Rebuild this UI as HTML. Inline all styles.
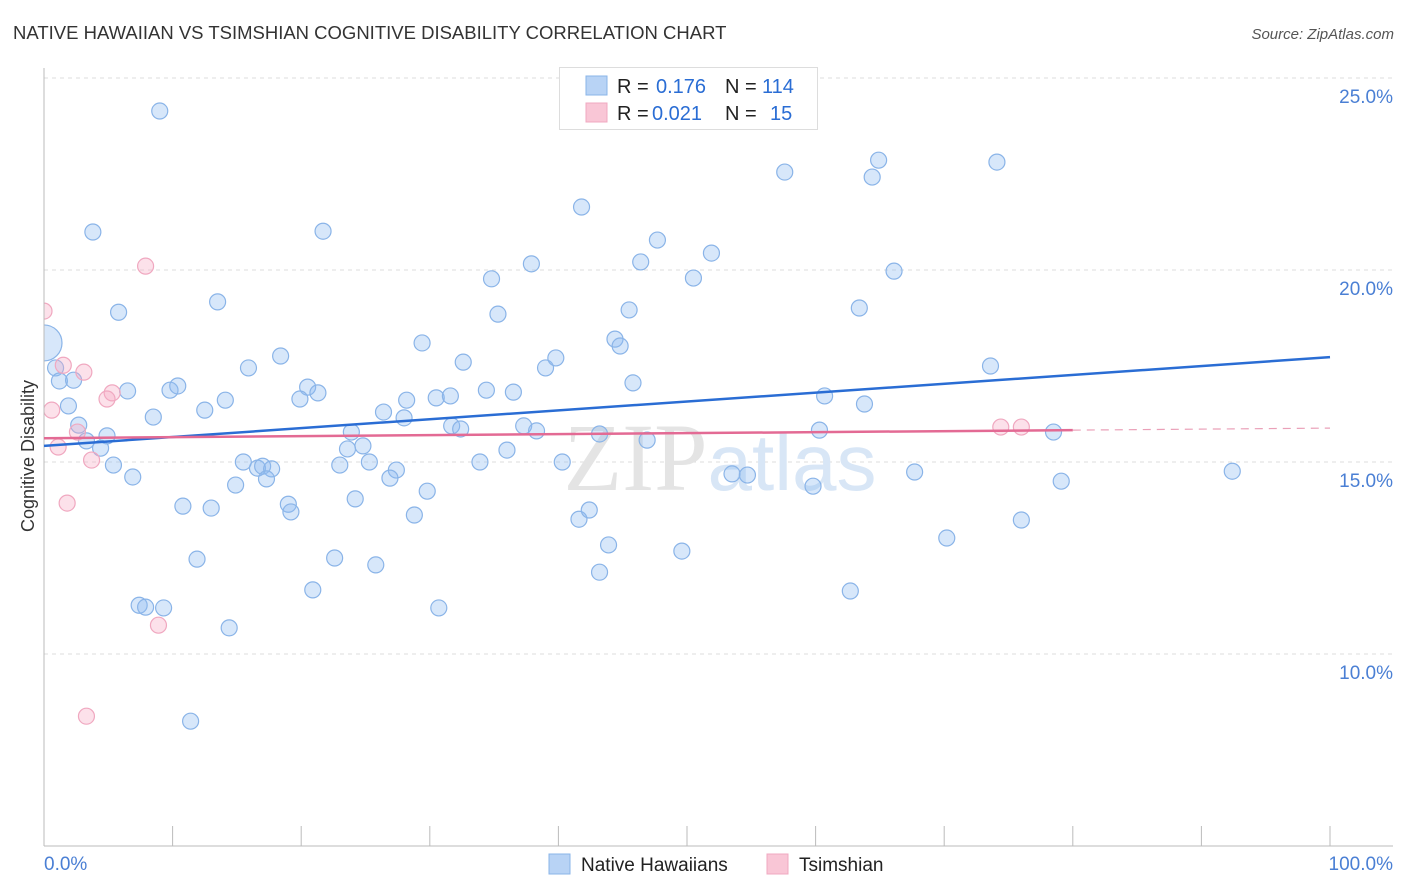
<!DOCTYPE html>
<html><head><meta charset="utf-8"><style>
body{margin:0;background:#fff;font-family:"Liberation Sans",sans-serif;}
svg{display:block}
</style></head><body>
<svg id="c" width="1406" height="892"><defs><clipPath id="plot"><rect x="44" y="40" width="1360" height="806"/></clipPath></defs></svg>
<script>
const blueX=[9.0,3.8,21.7,5.8,13.5,0,0.9,1.2,2.3,1.9,6.5,2.7,4.9,3.3,4.4,5.4,6.9,8.5,9.8,10.4,12.5,14.1,15.9,18.4,20.5,21.3,19.9,15.5,16.6,17.0,17.7,17.3,14.9,10.8,13.0,19.0,19.2,11.9,7.4,7.9,9.3,14.4,11.4,20.9,22.6,25.8,30.7,24.2,23.0,23.9,24.8,23.6,25.3,26.4,27.4,26.9,28.0,28.2,28.8,29.8,29.4,30.5,31.6,31.7,32.4,32.6,33.9,34.4,34.8,35.3,36.5,36.0,37.3,37.9,38.3,39.0,39.8,40.3,41.8,41.6,42.4,43.2,43.9,43.2,44.4,44.8,45.5,45.8,46.9,46.4,47.7,49.6,50.5,51.9,53.5,54.7,57.6,59.8,60.3,60.7,62.7,63.4,63.8,64.4,64.9,66.1,67.7,70.2,73.6,74.1,76.0,78.5,79.1,92.4];
const blueY=[24.14,20.99,21.01,18.90,19.17,18.10,17.45,17.11,17.13,16.46,16.85,15.96,15.68,15.55,15.36,14.92,14.61,16.17,16.87,16.98,16.35,16.61,17.45,17.76,16.95,16.80,16.64,15.0,14.84,14.89,14.82,14.56,14.40,13.85,13.80,13.90,13.70,12.47,11.27,11.22,11.20,10.68,8.25,11.67,12.50,12.32,11.20,14.04,14.92,15.78,15.42,15.34,15.0,16.30,14.79,14.58,16.15,16.61,13.62,14.24,18.10,16.67,16.72,15.94,15.86,17.60,15.0,16.87,19.77,18.85,16.82,15.31,15.94,20.16,15.81,17.45,17.71,15.0,21.64,13.51,13.75,15.73,12.84,12.13,18.20,18.02,18.96,17.06,15.57,20.21,20.78,12.68,19.79,20.44,14.69,14.66,22.55,14.37,15.83,16.72,11.64,19.01,16.51,22.42,22.86,19.97,14.74,13.02,17.50,22.81,13.49,15.78,14.50,14.76];
const pinkX=[0,7.9,1.5,3.1,5.3,4.9,0.6,2.6,1.1,3.7,1.8,8.9,3.3,74.4,76.0];
const pinkY=[18.93,20.10,17.52,17.34,16.80,16.64,16.35,15.78,15.39,15.05,13.93,10.75,8.38,15.91,15.91];
const blueTrend=[15.42,17.73];
const pinkTrend=[15.62,15.83,80];
const yTicks=[10,15,20,25];
const yTickLabels=["10.0%","15.0%","20.0%","25.0%"];
const xTickLabels=["0.0%","100.0%"];

const NS="http://www.w3.org/2000/svg";
const svg=document.getElementById('c');
const X=v=>44+v*12.86, Y=v=>270-(v-20)*38.4;
function mk(t,a,p){const e=document.createElementNS(NS,t);for(const k in a)e.setAttribute(k,a[k]);(p||svg).appendChild(e);return e;}
let e;
e=mk('text',{x:13,y:39,'font-size':18.5,fill:'#333'});e.textContent="NATIVE HAWAIIAN VS TSIMSHIAN COGNITIVE DISABILITY CORRELATION CHART";


e=mk('text',{x:1394,y:39,'font-size':15,fill:'#555','font-style':'italic','text-anchor':'end'});e.textContent="Source: ZipAtlas.com";


yTicks.forEach((t,i)=>{
 e=mk('line',{x1:44,x2:1393,y1:Y(t),y2:Y(t),stroke:'#ddd','stroke-dasharray':'4,4'});
 
 
 e=mk('text',{x:1393,y:Y(t)+25,'font-size':19,fill:'#4a7fd4','text-anchor':'end'});e.textContent=yTickLabels[i];
 
 
});
e=mk('text',{x:720,y:490,'font-size':96,fill:'#e4e4e4','text-anchor':'middle','font-family':'Liberation Serif'});
e.innerHTML='ZIP<tspan fill="#d8e6f6" font-family="Liberation Sans" font-size="80">atlas</tspan>';


const pg=mk('g',{'clip-path':'url(#plot)'});


blueX.forEach((x,i)=>{e=mk('circle',{cx:X(x),cy:Y(blueY[i]),r:i==5?18:8,fill:'rgba(140,185,240,0.35)',stroke:'#8ab4e8','stroke-width':1.2},pg);
 
 });
pinkX.forEach((x,i)=>{e=mk('circle',{cx:X(x),cy:Y(pinkY[i]),r:8,fill:'rgba(245,170,195,0.35)',stroke:'#f0a8c0','stroke-width':1.2},pg);
 
 });
e=mk('line',{x1:44,x2:44,y1:68,y2:846,stroke:'#bbb'});


e=mk('line',{x1:44,x2:1393,y1:846,y2:846,stroke:'#bbb'});


for(let i=0;i<=10;i++){e=mk('line',{x1:X(i*10),x2:X(i*10),y1:826,y2:846,stroke:'#bbb'});
 
 }
e=mk('text',{x:44,y:870,'font-size':19,fill:'#4a7fd4'});e.textContent=xTickLabels[0];


e=mk('text',{x:1393,y:870,'font-size':19,fill:'#4a7fd4','text-anchor':'end'});e.textContent=xTickLabels[1];


e=mk('text',{x:34,y:456,'font-size':18,fill:'#333','text-anchor':'middle',transform:'rotate(-90 34 456)'});e.textContent="Cognitive Disability";


e=mk('line',{x1:X(0),y1:Y(blueTrend[0]),x2:X(100),y2:Y(blueTrend[1]),stroke:'#2a6dd4','stroke-width':2.5});


const ps=(pinkTrend[1]-pinkTrend[0])/pinkTrend[2];
e=mk('line',{x1:X(0),y1:Y(pinkTrend[0]),x2:X(pinkTrend[2]),y2:Y(pinkTrend[1]),stroke:'#e36a94','stroke-width':2.5});


e=mk('line',{x1:X(pinkTrend[2]),y1:Y(pinkTrend[1]),x2:X(100),y2:Y(pinkTrend[0]+ps*100),stroke:'#eaa0b8','stroke-width':1.2,'stroke-dasharray':'8,6'});


const lg=mk('g',{});


mk('rect',{x:559.5,y:67.5,width:258,height:62,fill:'#fff',stroke:'#ddd'},lg);
mk('rect',{x:586,y:76,width:21,height:19,fill:'#b8d3f5',stroke:'#8ab4e8'},lg);
mk('rect',{x:586,y:103,width:21,height:19,fill:'#f9c6d6',stroke:'#f0a8c0'},lg);
e=mk('text',{x:617,y:93,'font-size':20,fill:'#222'},lg);e.innerHTML='R = <tspan fill="#2a6dd4" x="656">0.176</tspan><tspan x="725">N = </tspan><tspan fill="#2a6dd4" x="762">114</tspan>';
e=mk('text',{x:617,y:120,'font-size':20,fill:'#222'},lg);e.innerHTML='R = <tspan fill="#2a6dd4" x="652">0.021</tspan><tspan x="725">N = </tspan><tspan fill="#2a6dd4" x="770">15</tspan>';
e=mk('rect',{x:549,y:854,width:21,height:20,fill:'#b8d3f5',stroke:'#8ab4e8'});


e=mk('text',{x:581,y:871,'font-size':19,fill:'#222'});e.textContent="Native Hawaiians";


e=mk('rect',{x:767,y:854,width:21,height:20,fill:'#f9c6d6',stroke:'#f0a8c0'});


e=mk('text',{x:799,y:871,'font-size':19,fill:'#222'});e.textContent="Tsimshian";


</script>
</body></html>
